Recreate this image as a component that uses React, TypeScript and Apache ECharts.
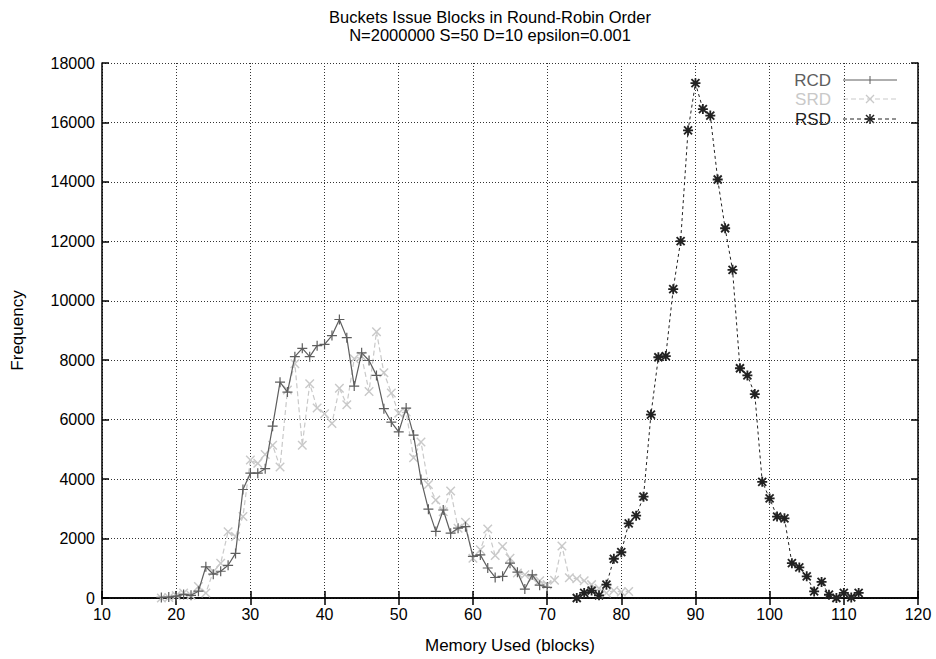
import React, { useEffect, useRef } from "react";
import * as echarts from "echarts";

// Memory used (blocks) and frequency for each distribution
const rcdBlocks = [18, 19, 20, 21, 22, 23, 24, 25, 26, 27, 28, 29, 30, 31, 32, 33, 34, 35, 36, 37, 38, 39, 40, 41, 42, 43, 44, 45, 46, 47, 48, 49, 50, 51, 52, 53, 54, 55, 56, 57, 58, 59, 60, 61, 62, 63, 64, 65, 66, 67, 68, 69, 70];
const rcdFreq = [20, 30, 60, 120, 90, 230, 1050, 800, 900, 1100, 1500, 3650, 4200, 4200, 4350, 5780, 7260, 6930, 8120, 8400, 8120, 8490, 8530, 8830, 9370, 8760, 7130, 8250, 7990, 7490, 6370, 5920, 5590, 6390, 5480, 3990, 2990, 2240, 2960, 2180, 2350, 2400, 1400, 1450, 1010, 690, 730, 1170, 870, 300, 780, 430, 360];

const srdBlocks = [18, 19, 20, 21, 22, 23, 24, 25, 26, 27, 28, 29, 30, 31, 32, 33, 34, 35, 36, 37, 38, 39, 40, 41, 42, 43, 44, 45, 46, 47, 48, 49, 50, 51, 52, 53, 54, 55, 56, 57, 58, 59, 60, 61, 62, 63, 64, 65, 66, 67, 68, 69, 70, 71, 72, 73, 74, 75, 76, 77, 78, 79, 80, 81];
const srdFreq = [0, 20, 80, 170, 90, 390, 170, 890, 1170, 2230, 2070, 2740, 4640, 4530, 4830, 5140, 4410, 7000, 7880, 5140, 7210, 6390, 6200, 5870, 7060, 6500, 8050, 8130, 6950, 8960, 7580, 6900, 6220, 6260, 4720, 5250, 3820, 3300, 2900, 3600, 2350, 2550, 1340, 1620, 2320, 1430, 1730, 1340, 840, 780, 670, 580, 450, 600, 1750, 680, 650, 580, 450, 330, 170, 250, 200, 220];

const rsdBlocks = [74, 75, 76, 77, 78, 79, 80, 81, 82, 83, 84, 85, 86, 87, 88, 89, 90, 91, 92, 93, 94, 95, 96, 97, 98, 99, 100, 101, 102, 103, 104, 105, 106, 107, 108, 109, 110, 111, 112];
const rsdFreq = [0, 170, 250, 90, 450, 1320, 1540, 2510, 2770, 3410, 6170, 8100, 8140, 10390, 12010, 15730, 17320, 16450, 16230, 14080, 12440, 11040, 7730, 7490, 6860, 3910, 3350, 2740, 2680, 1170, 1030, 730, 220, 540, 110, 0, 170, 20, 170];

const legendNames = ["RCD", "SRD", "RSD"];
const titleLines = ["Buckets Issue Blocks in Round-Robin Order", "N=2000000 S=50 D=10 epsilon=0.001"];

const FONT = "'Liberation Sans', Arial, Helvetica, sans-serif";
const C_RCD = "#5e5e5e";
const C_SRD = "#c9c9c9";
const C_RSD = "#222222";

const PLUS = "path://M4.4,0h1.2v4.4h4.4v1.2h-4.4v4.4h-1.2v-4.4h-4.4v-1.2h4.4z";
const STAR =
  "path://M4.1,0h1.8v4.1h4.1v1.8h-4.1v4.1h-1.8v-4.1h-4.1v-1.8h4.1z" +
  "M1.64,0.36L9.64,8.36L8.36,9.64L0.36,1.64z" +
  "M8.36,0.36L9.64,1.64L1.64,9.64L0.36,8.36z";

const pairs = (xs: number[], ys: number[]) => xs.map((x, i) => [x, ys[i]]);

export default function App() {
  const ref = useRef<HTMLDivElement>(null);

  useEffect(() => {
    if (!ref.current) return;
    const chart = echarts.init(ref.current, null, { renderer: "svg" });

    const left = 102, right = 918, top = 63, bottom = 600;
    const lx0 = 843, lx1 = 897, lxm = 870, textRight = 831;
    const rows = [80, 99, 119];

    const legendGraphics: any[] = [];
    const colors = [C_RCD, C_SRD, C_RSD];
    const dashes: any[] = [null, [5, 3], [4, 3]];
    rows.forEach((y, i) => {
      legendGraphics.push({
        type: "text",
        x: textRight,
        y,
        style: { text: legendNames[i], fill: colors[i], font: `17px ${FONT}`, align: "right", verticalAlign: "middle" },
      });
      legendGraphics.push({
        type: "line",
        shape: { x1: lx0, y1: y, x2: lx1, y2: y },
        style: { stroke: colors[i], lineWidth: 1, lineDash: dashes[i] },
      });
    });
    // legend marks
    legendGraphics.push({ type: "line", shape: { x1: lxm, y1: rows[0] - 4, x2: lxm, y2: rows[0] + 4 }, style: { stroke: C_RCD, lineWidth: 1 } });
    legendGraphics.push({ type: "line", shape: { x1: lxm - 4, y1: rows[1] - 4, x2: lxm + 4, y2: rows[1] + 4 }, style: { stroke: C_SRD, lineWidth: 1.2 } });
    legendGraphics.push({ type: "line", shape: { x1: lxm - 4, y1: rows[1] + 4, x2: lxm + 4, y2: rows[1] - 4 }, style: { stroke: C_SRD, lineWidth: 1.2 } });
    [[0, -5, 0, 5], [-5, 0, 5, 0], [-4, -4, 4, 4], [-4, 4, 4, -4]].forEach(([a, b, c, d]) =>
      legendGraphics.push({ type: "line", shape: { x1: lxm + a, y1: rows[2] + b, x2: lxm + c, y2: rows[2] + d }, style: { stroke: C_RSD, lineWidth: 1.5 } })
    );

    const frameAxis = {
      axisLabel: { show: false },
      splitLine: { show: false },
      axisLine: { show: true, lineStyle: { color: "#000", width: 1.5 } },
      axisTick: { show: true, inside: true, length: 7, lineStyle: { color: "#000", width: 1.5 } },
    };

    chart.setOption({
      animation: false,
      backgroundColor: "#fff",
      textStyle: { fontFamily: FONT },
      grid: { left, top, right: 936 - right, bottom: 659 - bottom, containLabel: false },
      xAxis: [
        {
          type: "value",
          min: 10,
          max: 120,
          interval: 10,
          name: "Memory Used (blocks)",
          nameLocation: "middle",
          nameGap: 39,
          nameTextStyle: { color: "#000", fontSize: 17, fontFamily: FONT },
          axisLine: { show: true, onZero: false, lineStyle: { color: "#000", width: 1.5 } },
          axisTick: { show: true, inside: true, length: 7, lineStyle: { color: "#000", width: 1.5 } },
          axisLabel: { color: "#000", fontSize: 16, fontFamily: FONT, margin: 8 },
          splitLine: { show: true, lineStyle: { color: "#333", width: 1, type: [1, 2] } },
        },
        { ...frameAxis, type: "value", position: "top", min: 10, max: 120, interval: 10 },
      ],
      yAxis: [
        {
          type: "value",
          min: 0,
          max: 18000,
          interval: 2000,
          name: "Frequency",
          nameLocation: "middle",
          nameGap: 76,
          nameTextStyle: { color: "#000", fontSize: 17, fontFamily: FONT },
          axisLine: { show: true, onZero: false, lineStyle: { color: "#000", width: 1.5 } },
          axisTick: { show: true, inside: true, length: 7, lineStyle: { color: "#000", width: 1.5 } },
          axisLabel: { color: "#000", fontSize: 16, fontFamily: FONT, margin: 7, formatter: (v: number) => String(v) },
          splitLine: { show: true, lineStyle: { color: "#333", width: 1, type: [1, 2] } },
        },
        { ...frameAxis, type: "value", position: "right", min: 0, max: 18000, interval: 2000 },
      ],
      graphic: [
        {
          type: "text",
          x: 490,
          y: 17,
          style: { text: titleLines[0], fill: "#000", font: `16.5px ${FONT}`, align: "center", verticalAlign: "middle" },
        },
        {
          type: "text",
          x: 490,
          y: 35,
          style: { text: titleLines[1], fill: "#000", font: `16.5px ${FONT}`, align: "center", verticalAlign: "middle" },
        },
        ...legendGraphics,
      ],
      series: [
        {
          name: "RCD",
          type: "line",
          data: pairs(rcdBlocks, rcdFreq),
          symbol: PLUS,
          symbolSize: 10,
          lineStyle: { color: C_RCD, width: 1.2 },
          itemStyle: { color: C_RCD },
          z: 3,
        },
        {
          name: "SRD",
          type: "line",
          data: pairs(srdBlocks, srdFreq),
          symbol: PLUS,
          symbolSize: 12,
          symbolRotate: 45,
          lineStyle: { color: C_SRD, width: 1.2, type: [5, 3] },
          itemStyle: { color: C_SRD },
          z: 2,
        },
        {
          name: "RSD",
          type: "line",
          data: pairs(rsdBlocks, rsdFreq),
          symbol: STAR,
          symbolSize: 10,
          lineStyle: { color: C_RSD, width: 1, type: [3, 3] },
          itemStyle: { color: C_RSD },
          z: 4,
        },
      ],
    });

    return () => chart.dispose();
  }, []);

  return <div ref={ref} style={{ position: "fixed", left: 0, top: 0, width: 936, height: 659 }} />;
}
